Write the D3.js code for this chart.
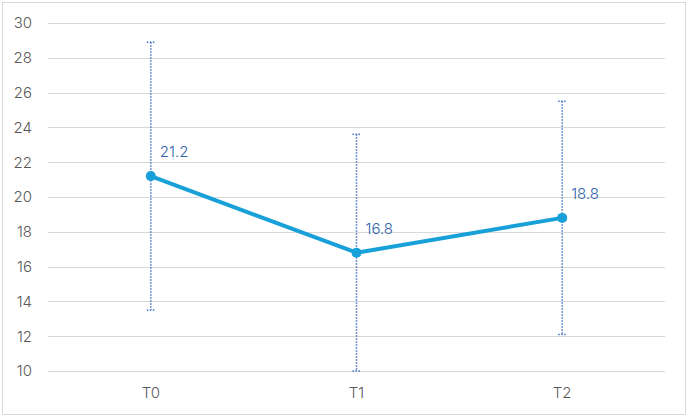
<!DOCTYPE html>
<html><head><meta charset="utf-8">
<script src="https://cdn.jsdelivr.net/npm/d3@7"></script>
<style>body{margin:0;background:#fff;}svg{display:block;font-family:Inter,"Open Sans",sans-serif;}</style>
</head><body>
<svg id="c" width="688" height="418"></svg>
<script>
const categories = ["T0","T1","T2"];
const values = [21.2, 16.8, 18.8];
const errPlus = [7.7, 6.8, 6.7];
const errMinus = [7.7, 6.8, 6.7];
const yTicks = [10,12,14,16,18,20,22,24,26,28,30];

(function(){
const svg = d3.select("#c");
svg.append("rect").attr("x",2.5).attr("y",2.5).attr("width",683).attr("height",412)
  .attr("fill","#fff").attr("stroke","#d9d9d9").attr("stroke-width",1);

const mLeft=48, mRight=665, mTop=23, mBottom=371;
const x = d3.scaleBand().domain(categories).range([mLeft,mRight]);
const y = d3.scaleLinear().domain([10,30]).range([mBottom,mTop]);
const cx = d => x(d)+x.bandwidth()/2;

svg.append("g").selectAll("line").data(yTicks).join("line")
  .attr("x1",mLeft).attr("x2",mRight).attr("y1",d=>Math.round(y(d))+0.5).attr("y2",d=>Math.round(y(d))+0.5)
  .attr("stroke","#d9d9d9").attr("stroke-width",1);

const yAxis = d3.axisLeft(y).tickValues(yTicks).tickSize(0).tickPadding(0);
const gy = svg.append("g").attr("transform",`translate(${mLeft-16},0)`).call(yAxis);
gy.select(".domain").remove();
gy.selectAll("text").attr("fill","#595959").style("font-size","15px").style("font-family","Inter,sans-serif").style("font-weight","300");

const xAxis = d3.axisBottom(x).tickSize(0).tickPadding(0);
const gx = svg.append("g").attr("transform",`translate(0,${mBottom+16})`).call(xAxis);
gx.select(".domain").remove();
gx.selectAll("text").attr("fill","#595959").style("font-size","15px").style("font-family","Inter,sans-serif").style("font-weight","300");

const data = categories.map((c,i)=>({c, v:values[i], hi:Math.min(30,values[i]+errPlus[i]), lo:Math.max(10,values[i]-errMinus[i])}));

const eb = svg.append("g").attr("stroke","#4472c4").attr("stroke-width",1.5).attr("stroke-dasharray","1.5,1.5");
eb.selectAll(".v").data(data).join("line")
  .attr("x1",d=>cx(d.c)).attr("x2",d=>cx(d.c)).attr("y1",d=>y(d.hi)).attr("y2",d=>y(d.lo));
eb.selectAll(".t").data(data).join("line")
  .attr("x1",d=>cx(d.c)-4).attr("x2",d=>cx(d.c)+4).attr("y1",d=>y(d.hi)).attr("y2",d=>y(d.hi));
eb.selectAll(".b").data(data).join("line")
  .attr("x1",d=>cx(d.c)-4).attr("x2",d=>cx(d.c)+4).attr("y1",d=>y(d.lo)).attr("y2",d=>y(d.lo));

svg.append("path").datum(data)
  .attr("d", d3.line().x(d=>cx(d.c)).y(d=>y(d.v)))
  .attr("fill","none").attr("stroke","#18a0d8").attr("stroke-width",4).attr("stroke-linejoin","round");

svg.append("g").selectAll("circle").data(data).join("circle")
  .attr("cx",d=>cx(d.c)).attr("cy",d=>y(d.v)).attr("r",5).attr("fill","#18a0d8");

svg.append("g").selectAll("text").data(data).join("text")
  .attr("x",d=>cx(d.c)+9).attr("y",d=>y(d.v)-19)
  .attr("fill","#2e64a8").style("font-size","15px").style("font-weight","300").text(d=>d.v.toFixed(1));
})();
</script>
</body></html>
